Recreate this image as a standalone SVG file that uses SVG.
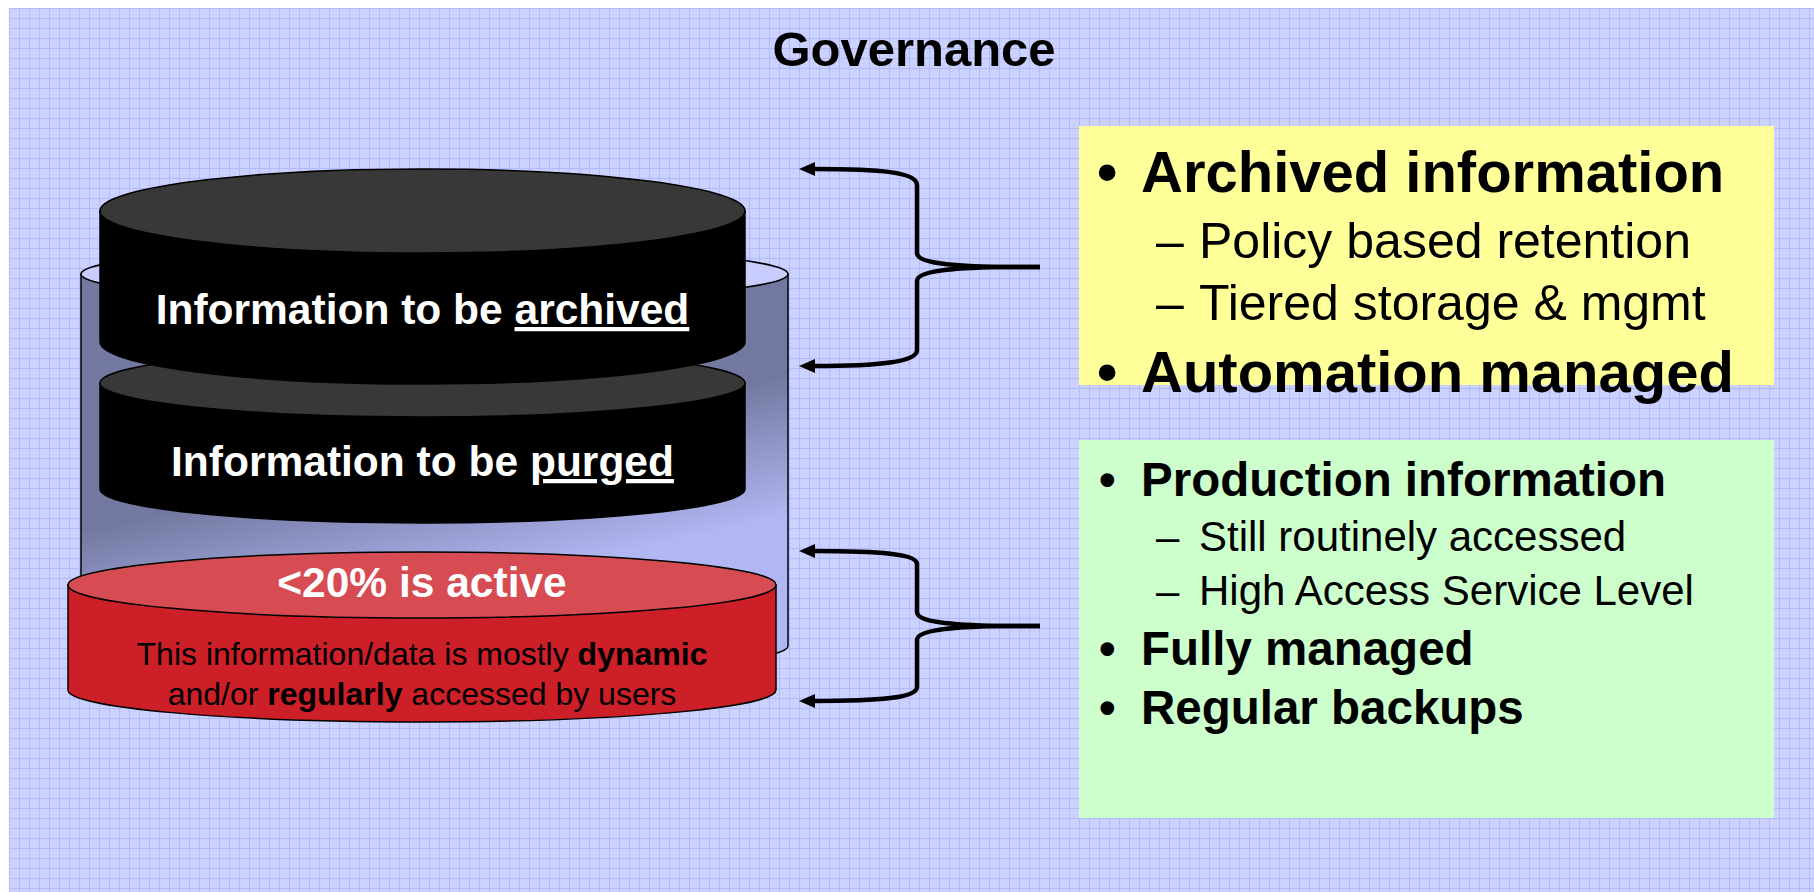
<svg xmlns="http://www.w3.org/2000/svg" width="1814" height="892" viewBox="0 0 1814 892">
<style>
text{font-family:"Liberation Sans",Arial,Helvetica,sans-serif;}
.b{font-weight:bold;}
.wt{fill:#FFFFFF;font-weight:bold;font-size:42.5px;text-anchor:middle;}
.cyl{stroke:#000000;stroke-width:1.5;}
.blk{fill:#000000;}
.blktop{fill:#383838;}
.l1{font-weight:bold;font-size:58px;}
.l2{font-size:50px;}
.g1{font-weight:bold;font-size:47.5px;}
.g2{font-size:42px;}
.br{fill:none;stroke:#000000;stroke-width:4.5;stroke-linejoin:round;}
</style>
<defs>
<pattern id="grid" width="10" height="10" patternUnits="userSpaceOnUse" x="9" y="8">
<rect width="10" height="10" fill="#CCD2FF"/>
<path d="M0,0.5H10M0.5,0V10" stroke="#B3BAFC" stroke-width="1"/>
</pattern>
<linearGradient id="backg" gradientUnits="userSpaceOnUse" x1="117" y1="522" x2="147" y2="658">
<stop offset="0" stop-color="#7378A0"/>
<stop offset="1" stop-color="#B0B7F2"/>
</linearGradient>
<marker id="arr" viewBox="0 -7 16 14" markerUnits="userSpaceOnUse" markerWidth="16" markerHeight="14" refX="1" refY="0" orient="auto">
<path d="M0,-7L16,0L0,7Z" fill="#000000"/>
</marker>
</defs>
<rect x="9" y="8" width="1805" height="884" fill="url(#grid)"/>
<g id="title"><text x="914" y="66" class="b" font-size="49" text-anchor="middle">Governance</text></g>
<g id="back-cylinder">
<path class="cyl" d="M81,274V646A353.5,28 0 0 0 788,646V274Z" fill="url(#backg)"/>
<ellipse class="cyl" cx="434.5" cy="274" rx="353.5" ry="28" fill="#C8CCFF"/>
</g>
<g id="purged">
<path class="cyl blk" d="M100,383V489A322.5,34 0 0 0 745,489V383Z"/>
<ellipse class="cyl blktop" cx="422.5" cy="383" rx="322.5" ry="34"/>
<text class="wt" x="422.5" y="476">Information to be <tspan text-decoration="underline">purged</tspan></text>
</g>
<g id="archived">
<path class="cyl blk" d="M100,211V342A322.5,42 0 0 0 745,342V211Z"/>
<ellipse class="cyl blktop" cx="422.5" cy="211" rx="322.5" ry="42"/>
<text class="wt" x="422.5" y="324">Information to be <tspan text-decoration="underline">archived</tspan></text>
</g>
<g id="active">
<path class="cyl" d="M68,585V690A354,32 0 0 0 776,690V585Z" fill="#CC1F27"/>
<ellipse class="cyl" cx="422" cy="585" rx="354" ry="33" fill="#D74B52"/>
<text class="wt" x="422" y="597">&lt;20% is active</text>
<text x="422" y="665" font-size="32" text-anchor="middle">This information/data is mostly <tspan class="b">dynamic</tspan></text>
<text x="422" y="705" font-size="32" text-anchor="middle">and/or <tspan class="b">regularly</tspan> accessed by users</text>
</g>
<g id="archive-box">
<rect x="1079" y="126" width="695" height="259" fill="#FFFF99"/>
<text x="1097" y="192" class="l1">•</text>
<text x="1141" y="192" class="l1">Archived information</text>
<text x="1156" y="258" class="l2">–</text>
<text x="1199" y="258" class="l2">Policy based retention</text>
<text x="1156" y="320" class="l2">–</text>
<text x="1199" y="320" class="l2">Tiered storage &amp; mgmt</text>
<text x="1097" y="392" class="l1">•</text>
<text x="1141" y="392" class="l1">Automation managed</text>
</g>
<g id="production-box">
<rect x="1079" y="440" width="695" height="378" fill="#CCFFCC"/>
<text x="1099" y="496" class="g1">•</text>
<text x="1141" y="496" class="g1">Production information</text>
<text x="1156" y="551" class="g2">–</text>
<text x="1199" y="551" class="g2">Still routinely accessed</text>
<text x="1156" y="605" class="g2">–</text>
<text x="1199" y="605" class="g2">High Access Service Level</text>
<text x="1099" y="665" class="g1">•</text>
<text x="1141" y="665" class="g1">Fully managed</text>
<text x="1099" y="724" class="g1">•</text>
<text x="1141" y="724" class="g1">Regular backups</text>
</g>
<g id="connectors">
<path class="br" marker-end="url(#arr)" d="M1040,267L1000,267C950,266 917,263 917,253V185C917,172 880,169 814,169"/>
<path class="br" marker-end="url(#arr)" d="M1040,267L1000,267C950,268 917,271 917,281V350C917,362 880,366 814,366"/>
<path class="br" marker-end="url(#arr)" d="M1040,626L1000,626C950,625 917,622 917,612V564C917,554 880,551 814,551"/>
<path class="br" marker-end="url(#arr)" d="M1040,626L1000,626C950,627 917,630 917,640V687C917,698 880,701 814,701"/>
</g>
</svg>
